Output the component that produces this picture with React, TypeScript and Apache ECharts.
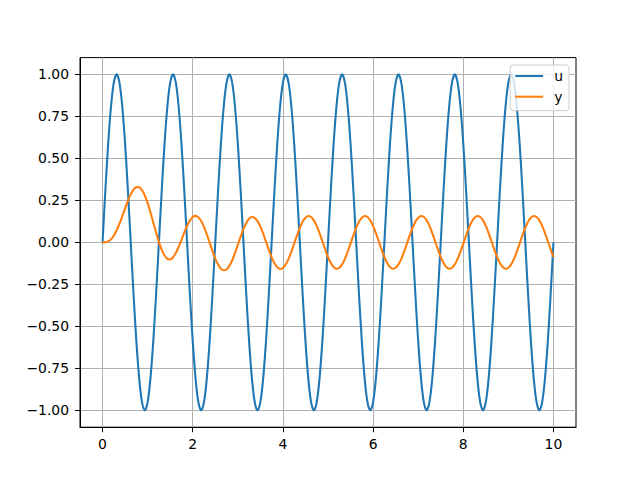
import React, { useEffect, useRef } from "react";
import * as echarts from "echarts";

// sample times (s)
const T = [
  0, 0.0625, 0.125, 0.1875, 0.25, 0.3125, 0.375, 0.4375, 0.5, 0.5625, 0.625, 0.6875, 0.75, 0.8125, 0.875, 0.9375,
  1, 1.0625, 1.125, 1.1875, 1.25, 1.3125, 1.375, 1.4375, 1.5, 1.5625, 1.625, 1.6875, 1.75, 1.8125, 1.875, 1.9375,
  2, 2.0625, 2.125, 2.1875, 2.25, 2.3125, 2.375, 2.4375, 2.5, 2.5625, 2.625, 2.6875, 2.75, 2.8125, 2.875, 2.9375,
  3, 3.0625, 3.125, 3.1875, 3.25, 3.3125, 3.375, 3.4375, 3.5, 3.5625, 3.625, 3.6875, 3.75, 3.8125, 3.875, 3.9375,
  4, 4.0625, 4.125, 4.1875, 4.25, 4.3125, 4.375, 4.4375, 4.5, 4.5625, 4.625, 4.6875, 4.75, 4.8125, 4.875, 4.9375,
  5, 5.0625, 5.125, 5.1875, 5.25, 5.3125, 5.375, 5.4375, 5.5, 5.5625, 5.625, 5.6875, 5.75, 5.8125, 5.875, 5.9375,
  6, 6.0625, 6.125, 6.1875, 6.25, 6.3125, 6.375, 6.4375, 6.5, 6.5625, 6.625, 6.6875, 6.75, 6.8125, 6.875, 6.9375,
  7, 7.0625, 7.125, 7.1875, 7.25, 7.3125, 7.375, 7.4375, 7.5, 7.5625, 7.625, 7.6875, 7.75, 7.8125, 7.875, 7.9375,
  8, 8.0625, 8.125, 8.1875, 8.25, 8.3125, 8.375, 8.4375, 8.5, 8.5625, 8.625, 8.6875, 8.75, 8.8125, 8.875, 8.9375,
  9, 9.0625, 9.125, 9.1875, 9.25, 9.3125, 9.375, 9.4375, 9.5, 9.5625, 9.625, 9.6875, 9.75, 9.8125, 9.875, 9.9375,
  10,
];

// input u
const U = [
  0, 0.309, 0.588, 0.809, 0.951, 1, 0.951, 0.809, 0.588, 0.309, 0, -0.309, -0.588, -0.809, -0.951, -1, -0.951, -0.809, -0.588, -0.309,
  0, 0.309, 0.588, 0.809, 0.951, 1, 0.951, 0.809, 0.588, 0.309, 0, -0.309, -0.588, -0.809, -0.951, -1, -0.951, -0.809, -0.588, -0.309,
  0, 0.309, 0.588, 0.809, 0.951, 1, 0.951, 0.809, 0.588, 0.309, 0, -0.309, -0.588, -0.809, -0.951, -1, -0.951, -0.809, -0.588, -0.309,
  0, 0.309, 0.588, 0.809, 0.951, 1, 0.951, 0.809, 0.588, 0.309, 0, -0.309, -0.588, -0.809, -0.951, -1, -0.951, -0.809, -0.588, -0.309,
  0, 0.309, 0.588, 0.809, 0.951, 1, 0.951, 0.809, 0.588, 0.309, 0, -0.309, -0.588, -0.809, -0.951, -1, -0.951, -0.809, -0.588, -0.309,
  0, 0.309, 0.588, 0.809, 0.951, 1, 0.951, 0.809, 0.588, 0.309, 0, -0.309, -0.588, -0.809, -0.951, -1, -0.951, -0.809, -0.588, -0.309,
  0, 0.309, 0.588, 0.809, 0.951, 1, 0.951, 0.809, 0.588, 0.309, 0, -0.309, -0.588, -0.809, -0.951, -1, -0.951, -0.809, -0.588, -0.309,
  0, 0.309, 0.588, 0.809, 0.951, 1, 0.951, 0.809, 0.588, 0.309, 0, -0.309, -0.588, -0.809, -0.951, -1, -0.951, -0.809, -0.588, -0.309,
  0,
];

// output y
const Y = [
  0, 0.001, 0.006, 0.018, 0.04, 0.072, 0.111, 0.156, 0.203, 0.248, 0.286, 0.314, 0.329, 0.328, 0.311, 0.279, 0.234, 0.179, 0.119, 0.059,
  0.003, -0.044, -0.078, -0.098, -0.101, -0.088, -0.063, -0.027, 0.015, 0.059, 0.099, 0.131, 0.151, 0.158, 0.15, 0.127, 0.092, 0.048, -0.001, -0.051,
  -0.096, -0.132, -0.157, -0.166, -0.161, -0.14, -0.107, -0.063, -0.015, 0.034, 0.08, 0.116, 0.141, 0.151, 0.146, 0.127, 0.094, 0.052, 0.004, -0.044,
  -0.089, -0.124, -0.148, -0.158, -0.152, -0.131, -0.098, -0.055, -0.007, 0.042, 0.087, 0.123, 0.147, 0.157, 0.151, 0.131, 0.098, 0.055, 0.007, -0.042,
  -0.087, -0.123, -0.147, -0.157, -0.151, -0.131, -0.098, -0.055, -0.007, 0.042, 0.087, 0.123, 0.147, 0.157, 0.151, 0.131, 0.098, 0.055, 0.007, -0.042,
  -0.087, -0.123, -0.147, -0.157, -0.151, -0.131, -0.098, -0.055, -0.007, 0.042, 0.087, 0.123, 0.147, 0.157, 0.151, 0.131, 0.098, 0.055, 0.007, -0.042,
  -0.087, -0.123, -0.147, -0.157, -0.151, -0.131, -0.098, -0.055, -0.007, 0.042, 0.087, 0.123, 0.147, 0.157, 0.151, 0.131, 0.098, 0.055, 0.007, -0.042,
  -0.087, -0.123, -0.147, -0.157, -0.151, -0.131, -0.098, -0.055, -0.007, 0.042, 0.087, 0.123, 0.147, 0.157, 0.151, 0.131, 0.098, 0.055, 0.007, -0.042,
  -0.087,
];

const SERIES_NAMES = ["u", "y"];
const COLORS = ["#1f77b4", "#ff7f0e"];
const X_TICKS = [0, 2, 4, 6, 8, 10];
const Y_TICKS = [-1, -0.75, -0.5, -0.25, 0, 0.25, 0.5, 0.75, 1];

export default function App() {
  const ref = useRef<HTMLDivElement>(null);

  useEffect(() => {
    if (!ref.current) return;
    const chart = echarts.init(ref.current, null, { renderer: "svg" });
    const font = "DejaVu Sans";
    const fs = 13.9;
    chart.setOption({
      animation: false,
      backgroundColor: "#ffffff",
      textStyle: { fontFamily: font },
      grid: {
        left: 80,
        right: 64,
        top: 57.6,
        bottom: 52.8,
        show: true,
        borderColor: "#000000",
        borderWidth: 1,
        backgroundColor: "transparent",
      },
      xAxis: {
        type: "value",
        min: -0.5,
        max: 10.5,
        axisLine: { show: true, onZero: false, lineStyle: { color: "#000", width: 1 } },
        axisTick: { show: true, length: 5, lineStyle: { color: "#000", width: 1 }, customValues: X_TICKS },
        axisLabel: {
          customValues: X_TICKS,
          color: "#000",
          fontSize: fs,
          fontFamily: font,
          margin: 10,
          formatter: (v: number) => String(v),
        },
        splitLine: { show: true, lineStyle: { color: "#b0b0b0", width: 1 } },
      },
      yAxis: {
        type: "value",
        min: -1.1,
        max: 1.1,
        axisLine: { show: true, onZero: false, lineStyle: { color: "#000", width: 1 } },
        axisTick: { show: true, length: 5, lineStyle: { color: "#000", width: 1 }, customValues: Y_TICKS },
        axisLabel: {
          customValues: Y_TICKS,
          color: "#000",
          fontSize: fs,
          fontFamily: font,
          margin: 11,
          formatter: (v: number) => v.toFixed(2).replace("-", "\u2212"),
        },
        splitLine: { show: true, lineStyle: { color: "#b0b0b0", width: 1 } },
      },
      legend: {
        data: SERIES_NAMES,
        orient: "vertical",
        right: 71,
        top: 65,
        icon: "rect",
        itemWidth: 28,
        itemHeight: 2.08,
        itemGap: 6.7,
        padding: [4, 6, 7, 5],
        backgroundColor: "rgba(255,255,255,0.8)",
        borderColor: "#cccccc",
        borderWidth: 1,
        borderRadius: 3,
        textStyle: { fontSize: fs, color: "#000", fontFamily: font, padding: [0, 0, 0, 6] },
      },
      series: [
        {
          name: SERIES_NAMES[0],
          type: "line",
          data: T.map((t, i) => [t, U[i]]),
          symbol: "none",
          smooth: 0.33,
          color: COLORS[0],
          lineStyle: { color: COLORS[0], width: 2.08 },
        },
        {
          name: SERIES_NAMES[1],
          type: "line",
          data: T.map((t, i) => [t, Y[i]]),
          symbol: "none",
          smooth: 0.33,
          color: COLORS[1],
          lineStyle: { color: COLORS[1], width: 2.08 },
        },
      ],
    });
    return () => chart.dispose();
  }, []);

  return (
    <div
      ref={ref}
      style={{ position: "fixed", left: 0, top: 0, width: 640, height: 480 }}
    />
  );
}
